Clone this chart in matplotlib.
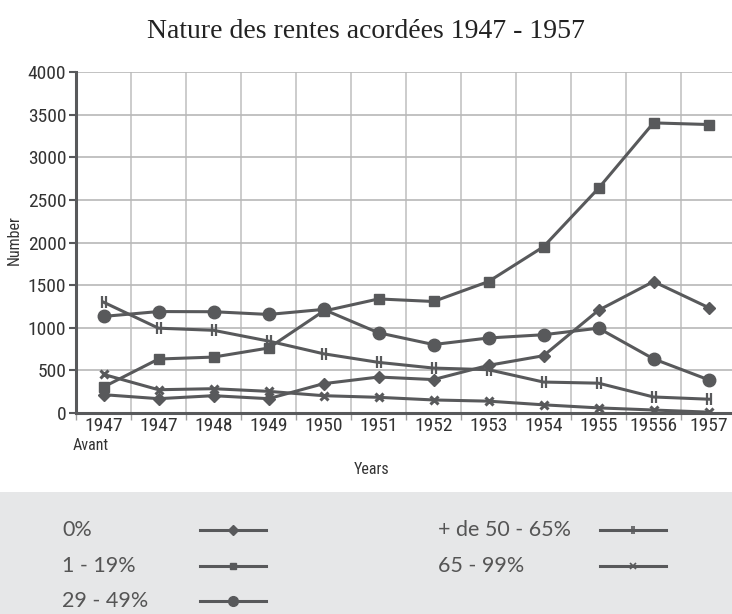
import matplotlib
matplotlib.use("Agg")
import matplotlib.pyplot as plt
from matplotlib.path import Path
from matplotlib.lines import Line2D
from matplotlib.patches import Rectangle

NARROW = ["Roboto Condensed", "Liberation Sans Narrow", "Roboto", "DejaVu Sans"]
plt.rcParams["font.family"] = NARROW

years = ["1947", "1947", "1948", "1949", "1950", "1951", "1952",
         "1953", "1954", "1955", "19556", "1957"]
zero_pct = [215, 168, 203, 168, 344, 422, 392, 559, 672, 1205, 1542, 1237]
pct_1_19 = [305, 633, 656, 762, 1195, 1338, 1308, 1542, 1950, 2636, 3403, 3384]
pct_29_49 = [1133, 1190, 1188, 1156, 1215, 941, 803, 880, 918, 995, 635, 390]
pct_50_65 = [1300, 995, 970, 844, 695, 594, 527, 508, 363, 350, 188, 162]
pct_65_99 = [453, 273, 285, 254, 203, 184, 153, 139, 96, 60, 35, 10]
labels = ["0%", "1 - 19%", "29 - 49%", "+ de 50 - 65%", "65 - 99%"]

COL = "#58595b"

# marqueur "II" : deux barres verticales
bars = Path([(-0.35, -1), (-0.35, 1), (0.35, -1), (0.35, 1)],
            [Path.MOVETO, Path.LINETO, Path.MOVETO, Path.LINETO])

styles = [
    (zero_pct, dict(marker="D", markersize=6)),
    (pct_1_19, dict(marker="s", markersize=7)),
    (pct_29_49, dict(marker="o", markersize=9)),
    (pct_50_65, dict(marker=bars, markersize=8, markeredgewidth=1.6)),
    (pct_65_99, dict(marker="x", markersize=6, markeredgewidth=2.2)),
]

fig = plt.figure(figsize=(7.32, 6.14), dpi=100)
ax = fig.add_axes([76 / 732, 201 / 614, 660 / 732, 341 / 614])

x = list(range(len(years)))
for vals, st in styles:
    ax.plot(x, vals, color=COL, linewidth=2.2, markerfacecolor=COL,
            markeredgecolor=COL, zorder=3, **st)

ax.set_xlim(-0.5, 11.5)
ax.set_ylim(0, 4000)
ax.set_yticks(range(0, 4001, 500))
ax.set_xticks(x)
ax.set_xticklabels(years, fontsize=14, color="#333333")
ax.set_xticks([i + 0.5 for i in range(-1, 12)], minor=True)
ax.tick_params(axis="x", which="major", length=0, pad=3)
ax.tick_params(axis="x", which="minor", length=5, width=1, color="#a0a0a0")
ax.tick_params(axis="y", length=5, width=1.5, color=COL, labelsize=14,
               labelcolor="#333333", pad=2)
ax.grid(axis="y", color="#b8b8b8", linewidth=1.2)
ax.grid(axis="x", which="minor", color="#c4c4c4", linewidth=1.2)
ax.set_axisbelow(True)
for s in ["top", "right"]:
    ax.spines[s].set_visible(False)
for s in ["left", "bottom"]:
    ax.spines[s].set_color(COL)
    ax.spines[s].set_linewidth(2.2)

fig.text(73 / 732, 1 - 446 / 614, "Avant", ha="left", va="center",
         fontsize=11.5, color="#333333")
fig.text(372 / 732, 1 - 470 / 614, "Years", ha="center", va="center",
         fontsize=11.5, color="#333333")
fig.text(14 / 732, 1 - 240 / 614, "Number", ha="center", va="center",
         rotation=90, fontsize=11.5, color="#333333")
fig.text(366 / 732, 1 - 32 / 614, "Nature des rentes acordées 1947 - 1957",
         ha="center", va="center", fontsize=20, color="#222222",
         family=["Liberation Serif", "DejaVu Serif"])

# légende dans le bandeau gris
fig.add_artist(Rectangle((0, 0), 1, 122 / 614, transform=fig.transFigure,
                         facecolor="#e6e7e8", edgecolor="none", zorder=0))
pos = [(62, 200, 530), (62, 200, 566), (62, 200, 601), (438, 600, 530), (438, 600, 566)]
leg_ms = [5, 5, 7, 6, 5]
for (tx, lx, yy), lab, (vals, st), ms in zip(pos, labels, styles, leg_ms):
    fy = 1 - yy / 614
    fig.text(tx / 732, fy, lab, ha="left", va="center", fontsize=15.5,
             color="#555555", family=["Lato", "Open Sans", "DejaVu Sans"])
    st2 = dict(st)
    st2["markersize"] = ms
    st2["markeredgewidth"] = 1.2 if "markeredgewidth" in st else 1
    fig.add_artist(Line2D([lx / 732, (lx + 33) / 732, (lx + 66) / 732], [fy, fy, fy],
                          transform=fig.transFigure, color=COL, linewidth=2.2,
                          markevery=[1], markerfacecolor=COL, markeredgecolor=COL,
                          **st2))

fig.savefig("out.png", dpi=100)
